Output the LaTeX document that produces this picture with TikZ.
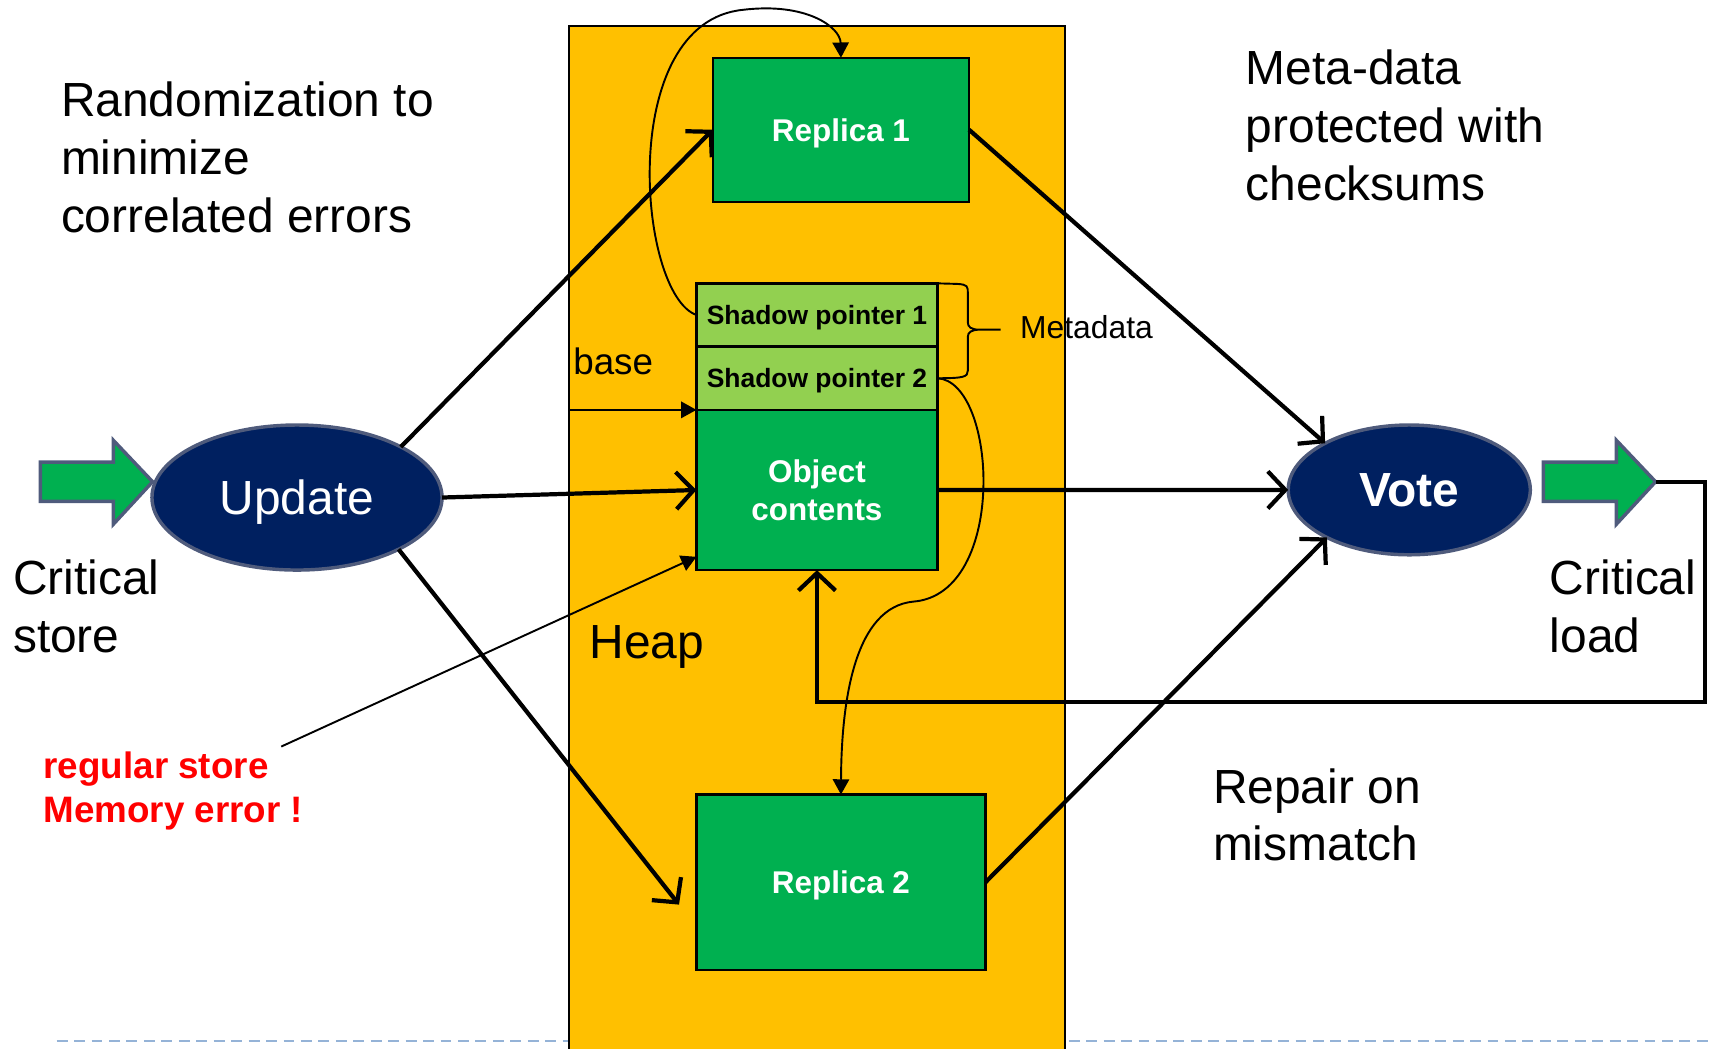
\documentclass[tikz,border=0pt]{standalone}
\usepackage{fontspec}
\setmainfont{Liberation Sans}
\usetikzlibrary{arrows.meta,positioning,shapes.geometric}
\definecolor{heapyellow}{HTML}{FFC000}
\definecolor{boxgreen}{HTML}{00B050}
\definecolor{metagreen}{HTML}{92D050}
\definecolor{navy}{HTML}{002060}
\definecolor{rimgray}{HTML}{4F5B7C}
\definecolor{slidedash}{HTML}{95B3D7}
\newcommand{\bigfont}{\fontsize{12.5}{15.1}\selectfont}

\begin{document}
\begin{tikzpicture}[x=0.01cm,y=-0.01cm,
  every node/.style={inner sep=0pt,outer sep=0pt},
  note/.style={anchor=north west,align=left,font=\bigfont},
  block/.style={draw=black,line width=0.6pt,fill=boxgreen,text=white,align=center,
    text depth=0pt,font=\fontsize{8.2}{10}\selectfont\bfseries},
  shadow/.style={draw=black,line width=0.6pt,fill=metagreen,minimum width=2.21cm,
    minimum height=0.58cm,text depth=0pt,font=\fontsize{6.9}{8}\selectfont\bfseries},
  oval/.style={ellipse,draw=rimgray,line width=0.9pt,fill=navy,text=white,text depth=0pt},
  flow/.style={line width=1.1pt,-{Straight Barb[length=1.6mm,width=3.4mm]}},
  ptr/.style={line width=0.5pt,-{Triangle[length=1.4mm,width=1.5mm]}}]
\useasboundingbox (0,0) rectangle (1568,962);
% footer line of the slide
\draw[slidedash,line width=0.6pt,dash pattern=on 0.1cm off 0.06cm] (52,955) -- (1568,955);
% heap and the objects in it
\node[draw=black,line width=0.6pt,fill=heapyellow,minimum width=4.55cm,minimum height=9.6cm,
  anchor=north west] (heap) at (522,24) {};
\node[block,minimum width=2.35cm,minimum height=1.32cm,anchor=north west] (rep1) at (654,53) {Replica 1};
\node[shadow,anchor=north west] (sp1) at (639,260) {Shadow pointer 1};
\node[shadow,below=0pt of sp1] (sp2) {Shadow pointer 2};
\node[block,minimum width=2.21cm,minimum height=1.47cm,below=0pt of sp2] (obj) {Object\\contents};
\node[block,minimum width=2.65cm,minimum height=1.61cm,anchor=north west] (rep2) at (639,729) {Replica 2};
% update and vote
\node[oval,minimum width=2.66cm,minimum height=1.33cm,font=\bigfont] (upd) at (272.5,456.5) {Update};
\node[oval,minimum width=2.22cm,minimum height=1.19cm,font=\bigfont\bfseries] (vote) at (1293,449.5) {Vote};
% block arrows for critical store and load
\foreach \x in {37,1416}
  \draw[fill=boxgreen,draw=rimgray,line width=0.9pt,shift={(\x,0)}]
    (0,424) -- (67,424) -- (67,404) -- (103,442) -- (67,481) -- (67,460) -- (0,460) -- cycle;
\coordinate (loadtip) at (1519,442);
\coordinate (r2in) at (623,830);
\coordinate (errtip) at (258,685);
% texts
\node[note] at (56,75) {Randomization to\\minimize\\correlated errors};
\node[note] at (1143,46) {Meta-data\\protected with\\checksums};
\node[note] at (12,514) {Critical\\store};
\node[note] at (1422,514) {Critical\\load};
\node[note] at (1113,705) {Repair on\\mismatch};
\node[anchor=base west,font=\fontsize{9.6}{11}\selectfont] at (526,344) {base};
\node[anchor=base west,font=\bigfont] at (541,604) {Heap};
\node[anchor=base west,font=\fontsize{8.3}{10}\selectfont] at (936,311) {Metadata};
\node[note,text=red,font=\fontsize{9.6}{11.4}\selectfont\bfseries] at (40,690) {regular store\\Memory error !};
% thick connectors
\draw[flow] (upd.26) -- (rep1.west);
\draw[flow] (upd.east) -- (obj.west);
\draw[flow] (upd.-27) -- (r2in);
\draw[flow] (rep1.east) -- (vote.151);
\draw[flow] (obj.east) -- (vote.west);
\draw[flow] (rep2.east) -- (vote.210);
\draw[flow] (loadtip) -| (1564,644) -| (obj.south);
% pointers
\draw[ptr] (heap.west |- sp2.south) -- (sp2.south west);
\draw[ptr] (errtip) -- (obj.209);
\draw[ptr] (sp1.west) .. controls (585,270) and (565,20) .. (682,9)
  .. controls (740,2) and (771,25) .. (rep1.north);
\draw[ptr] (sp2.east) .. controls (915,350) and (925,545) .. (838,552)
  .. controls (785,557) and (772,640) .. (rep2.north);
% brace round the shadow pointers
\draw[line width=0.5pt] (sp1.north east) -- (878,260.5) .. controls (888,261) and (888,263) .. (888,269)
  -- (888,296) .. controls (888,300) and (891,302.5) .. (899,302.5) -- (918,302.5)
  (899,302.5) .. controls (891,302.5) and (888,305) .. (888,309)
  -- (888,340) .. controls (888,346) and (884,347) .. (sp2.east);
\end{tikzpicture}
\end{document}
